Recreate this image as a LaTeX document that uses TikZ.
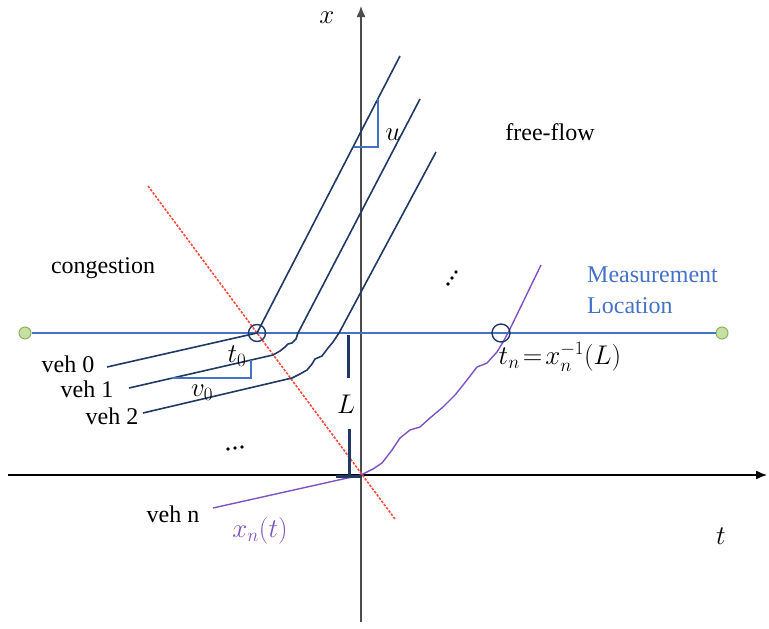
\RequirePackage{fix-cm}
\documentclass[tikz,border=0pt]{standalone}
\usepackage{fontspec}
\setmainfont{Liberation Serif}
\newfontfamily\tnr{Liberation Serif}
\usetikzlibrary{arrows.meta}
\definecolor{navy}{HTML}{203864}
\definecolor{mblue}{HTML}{4472C4}
\definecolor{vpurple}{HTML}{7E52C2}
\definecolor{dred}{HTML}{FF4A3D}
\definecolor{gfill}{HTML}{C6E0A4}
\definecolor{gline}{HTML}{8DB35E}
\tikzset{
  lbl/.style={inner sep=0pt, font=\tnr\fontsize{24}{29}\selectfont},
  mlbl/.style={inner sep=0pt, font=\fontsize{27}{32}\selectfont},
  traj/.style={draw=navy, line width=1.6pt, line join=round},
  ntraj/.style={draw=vpurple, line width=1.4pt, line join=round},
  slope/.style={draw=mblue, line width=1.2pt},
  axis/.style={line width=1.3pt, -{Latex[length=11pt,width=9pt]}},
  lmark/.style={draw=navy, line width=3pt},
  ring/.style={circle, draw=navy, line width=1.4pt, inner sep=0pt, minimum size=17pt},
  gdot/.style={circle, draw=gline, fill=gfill, line width=1pt, inner sep=0pt, minimum size=12pt},
  bdot/.style={circle, fill=black, inner sep=0pt, minimum size=3.6pt},
  redcut/.style={draw=dred, line width=1.6pt, dash pattern=on 2.5pt off 1.5pt}
}
\begin{document}
\begin{tikzpicture}[x=1pt,y=-1pt]
\useasboundingbox (0,0) rectangle (769,629);
% axes
\coordinate (tl) at (8,475);
\coordinate (tr) at (767,475);
\coordinate (xb) at (361,622);
\coordinate (xt) at (361,6);
\coordinate (O) at (361,475);
\draw[axis, black] (tl) -- (tr);
\draw[axis, black!70] (xb) -- (xt);
\node[mlbl] (xlab) at (327,18) {$x$};
\node[mlbl] (tlab) at (721,536) {$t$};
% red dashed line
\coordinate (r1) at (148,186);
\coordinate (r2) at (395,519);
\draw[redcut] (r1) -- (r2);
% measurement line
\node[gdot] (gl) at (25,333) {};
\node[gdot] (gr) at (722,333) {};
\draw[draw=mblue, line width=2.8pt] (gl) -- (gr);
% vehicle 0
\coordinate (a0) at (107,367);
\coordinate (b0) at (257,333);
\coordinate (c0) at (400,56);
\draw[traj] (a0) -- (b0) -- (c0);
% vehicle 1
\coordinate (a1) at (129,388);
\coordinate (b1) at (273,355);
\coordinate (d1) at (298,333);
\coordinate (c1) at (420,99);
\draw[traj] (a1) -- (b1) -- (280,351) -- (285,347) -- (288,344) -- (292,343) -- (296,339) -- (d1) -- (c1);
% vehicle 2
\coordinate (a2) at (143,413);
\coordinate (b2) at (292,378);
\coordinate (d2) at (339,333);
\coordinate (c2) at (436,152);
\draw[traj] (a2) -- (b2) -- (300,374) -- (307,370) -- (312,364) -- (315,359) -- (322,356) -- (328,348) -- (333,342) -- (337,336) -- (d2) -- (c2);
% vehicle n
\coordinate (an) at (213,508);
\coordinate (cn) at (541,265);
\draw[ntraj] (an) -- (O) -- (373,469) -- (382,463) -- (392,450) -- (400,438) -- (410,430) -- (420,427) -- (430,418) -- (443,407) -- (455,395) -- (467,380) -- (477,367) -- (487,363) -- (497,352) -- (503,342) -- (509,331) -- (cn);
% circles
\node[ring] (c0ring) at (257,333) {};
\node[ring, minimum size=18pt] (cnring) at (501,333) {};
% slope triangles
\coordinate (u1) at (378,99);
\coordinate (u2) at (378,147);
\coordinate (u3) at (354,147);
\draw[slope] (u1) -- (u2) -- (u3);
\coordinate (v1) at (172,378);
\coordinate (v2) at (251,378);
\coordinate (v3) at (251,360);
\draw[slope] (v1) -- (v2) -- (v3);
% L marker
\coordinate (L1) at (348,335);
\coordinate (L2) at (348,378);
\coordinate (L3) at (349,429);
\coordinate (L4) at (349,476);
\coordinate (L5) at (336,476);
\coordinate (L6) at (362,476);
\draw[lmark] (L1) -- (L2);
\draw[lmark] (L3) -- (L4);
\draw[lmark] (L5) -- (L6);
\node[mlbl] (Llab) at (346,404) {$L$};
% labels
\node[lbl] (cong) at (103,268) {congestion};
\node[lbl] (ff) at (550,132) {free-flow};
\node[lbl, text=mblue, align=left, anchor=west] (meas) at (587,290) {Measurement\\[2pt]Location};
\node[lbl] (veh0) at (68,364) {veh 0};
\node[lbl] (veh1) at (87,389) {veh 1};
\node[lbl] (veh2) at (112,416) {veh 2};
\node[lbl] (vehn) at (173,514) {veh n};
\node[mlbl] (t0) at (237,356) {$t_0$};
\node[mlbl] (v0) at (202,393) {$v_0$};
\node[mlbl] (ulab) at (393,135) {$u$};
\node[mlbl, text=vpurple] (xnt) at (260,531) {$x_n(t)$};
\node[mlbl] (tn) at (560,357) {$t_n\!=\!x_n^{-1}(L)$};
% dots
\node[bdot] (h1) at (228,449) {};
\node[bdot] (h2) at (235,448) {};
\node[bdot] (h3) at (242,447) {};
\node[bdot] (d1) at (456,272) {};
\node[bdot] (d2) at (452,278) {};
\node[bdot] (d3) at (448,284) {};
\end{tikzpicture}
\end{document}
